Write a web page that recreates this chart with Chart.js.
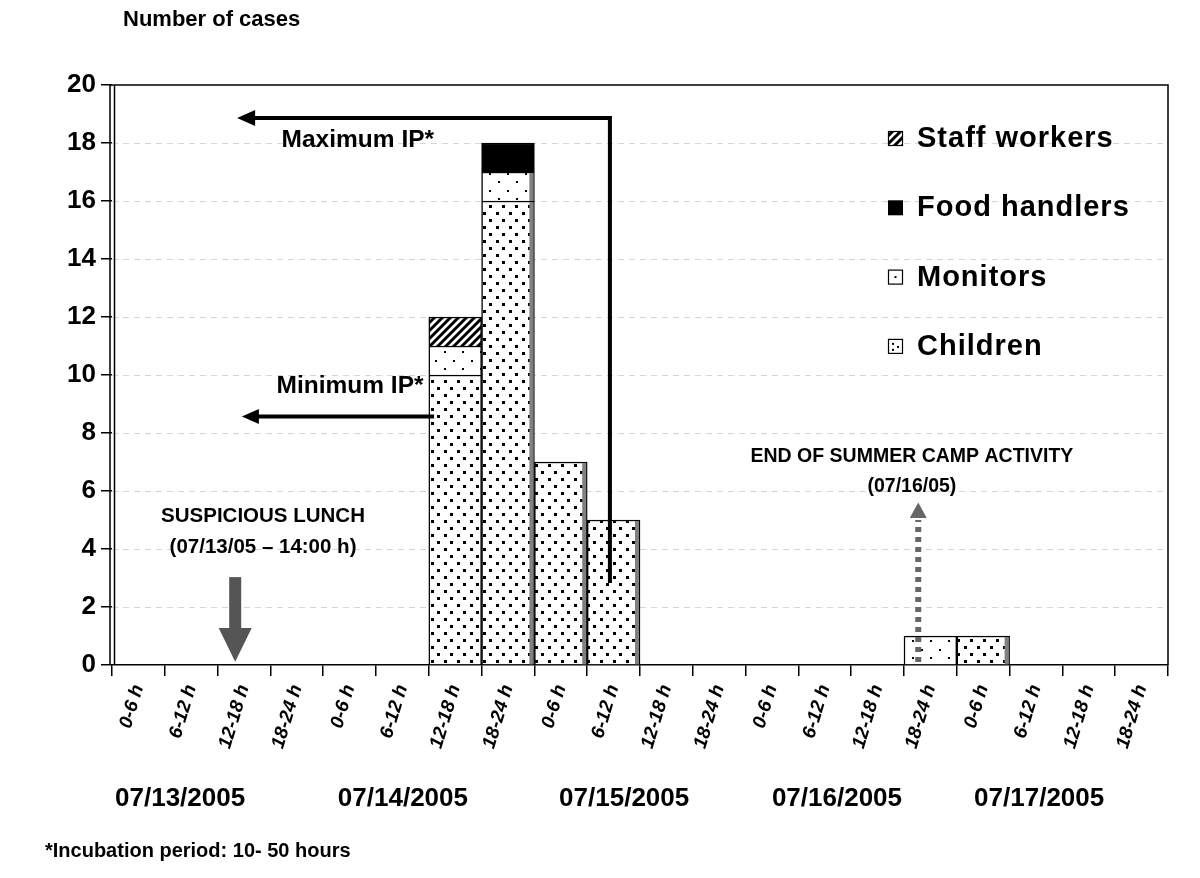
<!DOCTYPE html>
<html>
<head>
<meta charset="utf-8">
<script src="https://cdn.jsdelivr.net/npm/chart.js@4.4.1/dist/chart.umd.min.js"></script>
<style>
  html, body { margin: 0; padding: 0; background: #fff; }
  #wrap { width: 1200px; height: 878px; }
</style>
</head>
<body>
<div id="wrap"><canvas id="myChart"></canvas></div>
<script>
// 6-hour slots, 07/13 to 07/17
const slotLabels = [
  "0-6 h", "6-12 h", "12-18 h", "18-24 h",
  "0-6 h", "6-12 h", "12-18 h", "18-24 h",
  "0-6 h", "6-12 h", "12-18 h", "18-24 h",
  "0-6 h", "6-12 h", "12-18 h", "18-24 h",
  "0-6 h", "6-12 h", "12-18 h", "18-24 h",
];
const dayLabels = ["07/13/2005", "07/14/2005", "07/15/2005", "07/16/2005", "07/17/2005"];

const children      = [0, 0, 0, 0, 0, 0, 10, 16, 7, 5, 0, 0, 0, 0, 0, 0, 1, 0, 0, 0];
const monitors      = [0, 0, 0, 0, 0, 0, 1, 1, 0, 0, 0, 0, 0, 0, 0, 1, 0, 0, 0, 0];
const foodHandlers  = [0, 0, 0, 0, 0, 0, 0, 1, 0, 0, 0, 0, 0, 0, 0, 0, 0, 0, 0, 0];
const staffWorkers  = [0, 0, 0, 0, 0, 0, 1, 0, 0, 0, 0, 0, 0, 0, 0, 0, 0, 0, 0, 0];

const seriesNames = ["Children", "Monitors", "Food handlers", "Staff workers"];

// annotation anchors, in slot units from the left edge and case counts
const lunchSlot = 14 / 6;      // 07/13 at 14:00
const campEndSlot = 15.27;
const maxIP = { fromSlot: 9.43, fromVal: 2.83, lineVal: 18.86, tipSlot: 2.37 };
const minIP = { fromSlot: 6.1, lineVal: 8.57, tipSlot: 2.46 };
const daySlots = [1.29, 5.51, 9.7, 13.73, 17.56];

const FONT = "'Liberation Sans', Arial, sans-serif";

function makePattern(w, h, draw) {
  const c = document.createElement("canvas");
  c.width = w;
  c.height = h;
  const g = c.getContext("2d");
  g.fillStyle = "#fff";
  g.fillRect(0, 0, w, h);
  g.fillStyle = "#000";
  g.strokeStyle = "#000";
  draw(g);
  return g.createPattern(c, "repeat");
}

const childPattern = makePattern(13, 14, g => {
  g.fillRect(2, 2, 3, 3);
  g.fillRect(8, 9, 3, 3);
});
const monitorPattern = makePattern(18, 17, g => {
  g.fillRect(3, 3, 2, 2);
  g.fillRect(12, 11, 2, 2);
});
const staffPattern = makePattern(8, 8, g => {
  g.lineWidth = 3;
  g.beginPath();
  g.moveTo(-2, 10); g.lineTo(10, -2);
  g.moveTo(-6, 6); g.lineTo(6, -6);
  g.moveTo(2, 14); g.lineTo(14, 2);
  g.stroke();
});

const fills = [childPattern, monitorPattern, "#000", staffPattern];
const seriesData = [children, monitors, foodHandlers, staffWorkers];

const totals = slotLabels.map((_, i) => seriesData.reduce((s, d) => s + d[i], 0));

function text(ctx, str, x, y, size, align) {
  ctx.save();
  ctx.font = "bold " + size + "px " + FONT;
  ctx.fillStyle = "#000";
  ctx.textAlign = align || "left";
  ctx.textBaseline = "alphabetic";
  ctx.fillText(str, x, y);
  ctx.restore();
}

const extras = {
  id: "extras",
  beforeDatasetsDraw(chart) {
    const { ctx, chartArea: a, scales: { y } } = chart;
    ctx.save();
    ctx.strokeStyle = "#d6d6d6";
    ctx.lineWidth = 1;
    ctx.setLineDash([6, 5]);
    y.ticks.forEach(t => {
      if (t.value <= y.min || t.value >= y.max) return;
      const py = Math.round(y.getPixelForValue(t.value)) + 0.5;
      ctx.beginPath();
      ctx.moveTo(a.left, py);
      ctx.lineTo(a.right, py);
      ctx.stroke();
    });
    ctx.restore();
  },
  afterDatasetsDraw(chart) {
    const { ctx, chartArea: a, scales: { x, y } } = chart;
    const X = s => x.getPixelForValue(s - 0.5);
    const Y = v => y.getPixelForValue(v);

    // grey depth strip on the right of bars that stand above the next one
    ctx.save();
    ctx.fillStyle = "#808080";
    [0, 1, 3].forEach(di => {
      chart.getDatasetMeta(di).data.forEach((bar, i) => {
        if (!seriesData[di][i]) return;
        const next = i + 1 < totals.length ? totals[i + 1] : 0;
        if (next >= totals[i]) return;
        const right = bar.x + bar.width / 2;
        ctx.fillRect(right - 5, bar.y + 1, 4, bar.base - bar.y - 1);
      });
    });
    ctx.restore();

    // frame and double y axis line
    ctx.save();
    ctx.strokeStyle = "#000";
    ctx.lineWidth = 1.5;
    ctx.beginPath();
    ctx.moveTo(a.left - 2, a.top);
    ctx.lineTo(a.right, a.top);
    ctx.lineTo(a.right, a.bottom);
    ctx.moveTo(a.left - 2, a.top);
    ctx.lineTo(a.left - 2, a.bottom);
    ctx.moveTo(a.left + 2.5, a.top);
    ctx.lineTo(a.left + 2.5, a.bottom);
    ctx.stroke();
    ctx.restore();

    // maximum incubation period arrow
    ctx.save();
    ctx.strokeStyle = "#000";
    ctx.fillStyle = "#000";
    ctx.lineWidth = 4;
    ctx.lineJoin = "miter";
    let tip = X(maxIP.tipSlot), ly = Y(maxIP.lineVal);
    ctx.beginPath();
    ctx.moveTo(X(maxIP.fromSlot), Y(maxIP.fromVal));
    ctx.lineTo(X(maxIP.fromSlot), ly);
    ctx.lineTo(tip + 14, ly);
    ctx.stroke();
    ctx.beginPath();
    ctx.moveTo(tip, ly);
    ctx.lineTo(tip + 18, ly - 8);
    ctx.lineTo(tip + 18, ly + 8);
    ctx.closePath();
    ctx.fill();

    // minimum incubation period arrow
    tip = X(minIP.tipSlot);
    ly = Y(minIP.lineVal);
    ctx.beginPath();
    ctx.moveTo(X(minIP.fromSlot), ly);
    ctx.lineTo(tip + 14, ly);
    ctx.stroke();
    ctx.beginPath();
    ctx.moveTo(tip, ly);
    ctx.lineTo(tip + 17, ly - 7.5);
    ctx.lineTo(tip + 17, ly + 7.5);
    ctx.closePath();
    ctx.fill();
    ctx.restore();

    // suspicious lunch arrow
    ctx.save();
    const lx = X(lunchSlot);
    ctx.fillStyle = "#555";
    ctx.fillRect(lx - 6, Y(3.03), 12, Y(1.28) - Y(3.03) + 1);
    ctx.beginPath();
    ctx.moveTo(lx - 16.5, Y(1.28));
    ctx.lineTo(lx + 16.5, Y(1.28));
    ctx.lineTo(lx, Y(0.11));
    ctx.closePath();
    ctx.fill();
    ctx.restore();

    // end of camp dotted arrow
    ctx.save();
    const cx = X(campEndSlot);
    ctx.strokeStyle = "#666";
    ctx.fillStyle = "#666";
    ctx.lineWidth = 6;
    ctx.setLineDash([5, 5]);
    ctx.beginPath();
    ctx.moveTo(cx, Y(0.1));
    ctx.lineTo(cx, Y(5.0));
    ctx.stroke();
    ctx.setLineDash([]);
    ctx.beginPath();
    ctx.moveTo(cx - 8.5, Y(5.07));
    ctx.lineTo(cx + 8.5, Y(5.07));
    ctx.lineTo(cx, Y(5.6));
    ctx.closePath();
    ctx.fill();
    ctx.restore();

    // annotation texts
    text(ctx, "Maximum IP*", X(6.1), Y(17.87), 24.5, "right");
    text(ctx, "Minimum IP*", X(5.9), Y(9.38), 24.5, "right");
    text(ctx, "SUSPICIOUS LUNCH", X(2.86), Y(4.93), 20.5, "center");
    text(ctx, "(07/13/05 \u2013 14:00 h)", X(2.86), Y(3.86), 20.5, "center");
    text(ctx, "END OF SUMMER CAMP ACTIVITY", X(15.15), Y(7.0), 19.5, "center");
    text(ctx, "(07/16/05)", X(15.15), Y(5.97), 19.5, "center");
  },
  afterDraw(chart) {
    const { ctx, chartArea: a, scales: { x } } = chart;
    const X = s => x.getPixelForValue(s - 0.5);

    text(ctx, "Number of cases", a.left + 11, a.top - 59, 22, "left");
    dayLabels.forEach((d, i) => text(ctx, d, X(daySlots[i]), 806, 26, "center"));
    text(ctx, "*Incubation period: 10- 50 hours", 45, 857, 20, "left");

    // legend, top series first
    const lx = a.right - 280;
    const rows = [3, 2, 1, 0];
    rows.forEach((di, r) => {
      const base = a.top + 62 + r * 69.3;
      const bx = lx, by = base - 16, bs = 15;
      ctx.save();
      if (di === 2) {
        ctx.fillStyle = "#000";
        ctx.fillRect(bx, by, bs, bs);
      } else {
        ctx.fillStyle = di === 3 ? staffPattern : "#fff";
        ctx.fillRect(bx, by, bs, bs);
        ctx.fillStyle = "#000";
        if (di === 1) ctx.fillRect(bx + 6.5, by + 6.5, 2, 2);
        if (di === 0) {
          ctx.fillRect(bx + 4, by + 4, 2, 2);
          ctx.fillRect(bx + 9, by + 7, 2, 2);
          ctx.fillRect(bx + 4, by + 10, 2, 2);
        }
        ctx.strokeStyle = "#000";
        ctx.lineWidth = 1.2;
        ctx.strokeRect(bx + 0.5, by + 0.5, bs - 1, bs - 1);
      }
      ctx.font = "bold 29px " + FONT;
      ctx.letterSpacing = "1px";
      ctx.fillStyle = "#000";
      ctx.textBaseline = "alphabetic";
      ctx.fillText(seriesNames[di], lx + 29, base);
      ctx.restore();
    });
  }
};

const data = {
  labels: slotLabels,
  datasets: seriesData.map((d, i) => ({
    label: seriesNames[i],
    data: d.map(v => v || null),
    backgroundColor: fills[i],
    borderColor: "#000",
    borderWidth: 1.5,
    barPercentage: 1,
    categoryPercentage: 1,
  })),
};

const config = {
  type: "bar",
  data: data,
  options: {
    responsive: true,
    maintainAspectRatio: false,
    animation: false,
    layout: { padding: { top: 85, right: 32, bottom: 0, left: 0 } },
    plugins: {
      legend: { display: false },
      tooltip: { enabled: false },
    },
    scales: {
      x: {
        stacked: true,
        offset: true,
        grid: { offset: true, drawOnChartArea: false, color: "#000", lineWidth: 1.5, tickLength: 11 },
        border: { color: "#000", width: 1.5 },
        ticks: {
          autoSkip: false,
          minRotation: 73,
          maxRotation: 73,
          padding: 6,
          color: "#000",
          font: { family: FONT, size: 19, weight: "bold", style: "italic" },
        },
        afterFit: s => { s.height = 213; },
      },
      y: {
        stacked: true,
        min: 0,
        max: 20,
        ticks: {
          stepSize: 2,
          padding: 5,
          color: "#000",
          font: { family: FONT, size: 26, weight: "bold" },
        },
        grid: { drawOnChartArea: false, color: "#000", lineWidth: 1.5, tickLength: 11 },
        border: { display: false },
        afterFit: s => { s.width = 112; },
      },
    },
  },
  plugins: [extras],
};

new Chart(document.getElementById("myChart").getContext("2d"), config);
</script>
</body>
</html>
